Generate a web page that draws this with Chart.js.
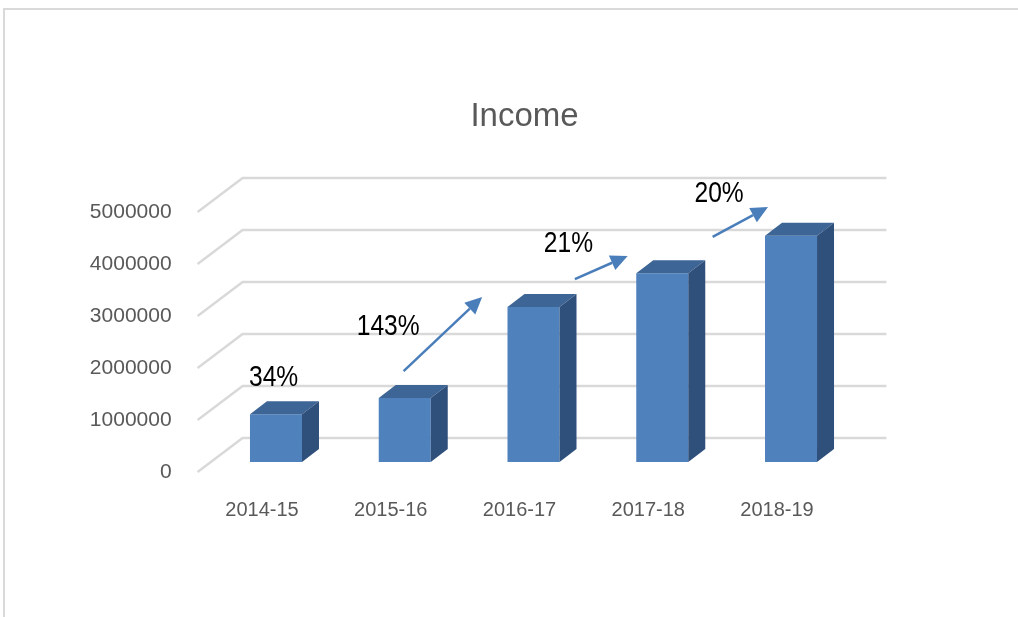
<!DOCTYPE html>
<html>
<head>
<meta charset="utf-8">
<script src="https://cdn.jsdelivr.net/npm/chart.js@4.4.1/dist/chart.umd.min.js"></script>
<style>
html, body { margin: 0; padding: 0; background: #fff; overflow: hidden; }
#frame { position: absolute; left: 3px; top: 8px; width: 1030px; height: 620px; border-top: 2px solid #d9d9d9; border-left: 2px solid #d9d9d9; }
#incomeChart { position: absolute; left: 0; top: 0; }
</style>
</head>
<body>
<div id="frame"></div>
<canvas id="incomeChart" width="1018" height="617"></canvas>
<script>
const years = ["2014-15", "2015-16", "2016-17", "2017-18", "2018-19"]
const income = [920000, 1230000, 2980000, 3630000, 4350000]
const yTickLabels = ["0", "1000000", "2000000", "3000000", "4000000", "5000000"]
const growth = ["34%", "143%", "21%", "20%"]

// where each growth note sits (category index, value)
const growthAt = [[0.09, 1810000], [0.98, 2800000], [2.38, 4390000], [3.55, 5360000]]
// arrow from -> to, same units ; none for the first note
const growthArrows = [
	null,
	[[1.10, 1940000], [1.71, 3365000]],
	[[2.43, 3710000], [2.84, 4155000]],
	[[3.50, 4520000], [3.93, 5095000]]
]

const sans = "'Liberation Sans', Arial, sans-serif"

// fake 3d : back wall offset, bar offset inside the floor, bar depth
const wall = { x: 45, y: -34 }
const shift = { x: 14, y: -10 }
const depth = { x: 17, y: -13 }

const faces3d = {
	id: "faces3d",
	beforeDatasetsDraw(chart) {
		const { ctx, chartArea: a, scales: { y } } = chart
		ctx.save()
		ctx.strokeStyle = "#d9d9d9"
		ctx.lineWidth = 2.5
		y.ticks.forEach(t => {
			const py = y.getPixelForValue(t.value)
			ctx.beginPath()
			ctx.moveTo(a.left, py)
			ctx.lineTo(a.left + wall.x, py + wall.y)
			ctx.lineTo(a.right + wall.x, py + wall.y)
			ctx.stroke()
		})
		ctx.restore()
		ctx.save()
		ctx.translate(shift.x, shift.y)
	},
	afterDatasetsDraw(chart) {
		const ctx = chart.ctx
		ctx.restore()
		ctx.save()
		chart.getDatasetMeta(0).data.forEach(bar => {
			const p = bar.getProps(["x", "y", "base", "width"], true)
			const l = p.x - p.width / 2 + shift.x
			const r = p.x + p.width / 2 + shift.x
			const t = p.y + shift.y
			const b = p.base + shift.y

			ctx.fillStyle = "#3d6596"
			ctx.beginPath()
			ctx.moveTo(l, t)
			ctx.lineTo(r, t)
			ctx.lineTo(r + depth.x, t + depth.y)
			ctx.lineTo(l + depth.x, t + depth.y)
			ctx.closePath()
			ctx.fill()

			ctx.fillStyle = "#30507c"
			ctx.beginPath()
			ctx.moveTo(r, t)
			ctx.lineTo(r + depth.x, t + depth.y)
			ctx.lineTo(r + depth.x, b + depth.y)
			ctx.lineTo(r, b)
			ctx.closePath()
			ctx.fill()
		})
		ctx.restore()
	},
	afterDraw(chart) {
		const { ctx, scales: { x, y } } = chart
		// growth notes, squeezed a bit to look like the narrow office font
		const squeeze = 0.82
		ctx.save()
		ctx.scale(squeeze, 1)
		ctx.font = "30px " + sans
		ctx.fillStyle = "#000"
		ctx.textAlign = "center"
		ctx.textBaseline = "middle"
		growth.forEach((txt, i) => {
			ctx.fillText(txt, x.getPixelForValue(growthAt[i][0]) / squeeze, y.getPixelForValue(growthAt[i][1]))
		})
		ctx.restore()

		ctx.save()
		ctx.strokeStyle = "#4a7ebb"
		ctx.fillStyle = "#4a7ebb"
		ctx.lineWidth = 2.5
		growthArrows.forEach(ar => {
			if (!ar) return
			const x0 = x.getPixelForValue(ar[0][0]), y0 = y.getPixelForValue(ar[0][1])
			const x1 = x.getPixelForValue(ar[1][0]), y1 = y.getPixelForValue(ar[1][1])
			const ang = Math.atan2(y1 - y0, x1 - x0)
			const head = 17, half = 8
			const bx = x1 - head * Math.cos(ang), by = y1 - head * Math.sin(ang)
			ctx.beginPath()
			ctx.moveTo(x0, y0)
			ctx.lineTo(bx, by)
			ctx.stroke()
			ctx.beginPath()
			ctx.moveTo(x1, y1)
			ctx.lineTo(bx + half * Math.sin(ang), by - half * Math.cos(ang))
			ctx.lineTo(bx - half * Math.sin(ang), by + half * Math.cos(ang))
			ctx.closePath()
			ctx.fill()
		})
		ctx.restore()
	}
}

const incomeChart = new Chart(
	document.getElementById("incomeChart"),
	{
		type: "bar",
		data: {
			labels: years,
			datasets: [{
				label: "Income",
				data: income,
				backgroundColor: "#4f81bd",
				borderWidth: 0,
				barPercentage: 0.404,
				categoryPercentage: 1
			}]
		},
		options: {
			responsive: false,
			animation: false,
			layout: {
				padding: { left: 60, right: 29, top: 0, bottom: 85 }
			},
			plugins: {
				legend: { display: false },
				tooltip: { enabled: false },
				title: {
					display: true,
					text: "Income",
					color: "#595959",
					font: { family: sans, size: 33, weight: "normal" },
					padding: { top: 97, bottom: 75.4 }
				}
			},
			scales: {
				x: {
					offset: true,
					grid: { display: false, drawTicks: false },
					border: { display: false },
					ticks: {
						color: "#595959",
						font: { family: sans, size: 20 },
						padding: 26,
						maxRotation: 0,
						autoSkip: false
					},
					afterFit: s => { s.height = 60 }
				},
				y: {
					min: 0,
					max: 5000000,
					grid: { display: false, drawTicks: false },
					border: { display: false },
					ticks: {
						stepSize: 1000000,
						color: "#595959",
						font: { family: sans, size: 21 },
						padding: 26,
						callback: (v, i) => yTickLabels[i]
					},
					afterFit: s => { s.width = 137.6 }
				},
				y2: {
					position: "right",
					grid: { display: false, drawTicks: false },
					border: { display: false },
					ticks: { display: false },
					afterFit: s => { s.width = 147.6 }
				}
			}
		},
		plugins: [faces3d]
	}
)
</script>
</body>
</html>
